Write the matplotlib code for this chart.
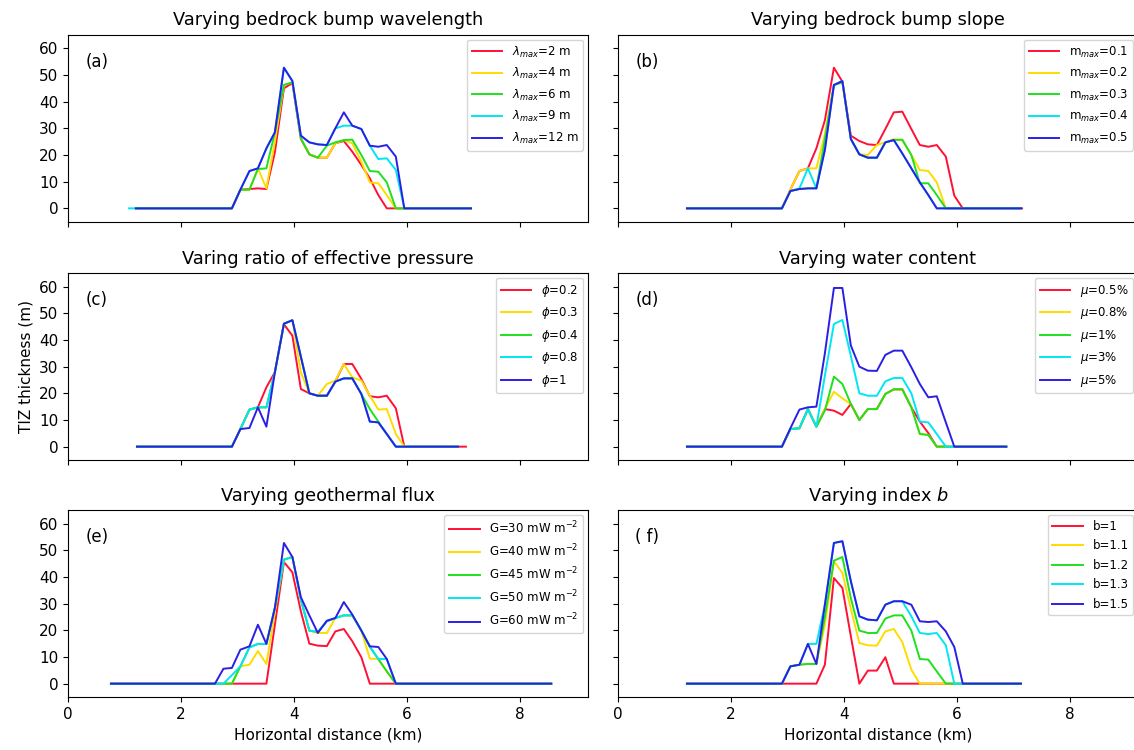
import matplotlib
matplotlib.use("Agg")
import matplotlib.pyplot as plt

# common horizontal grid of the model output (km)
X_GRID = [2.60, 2.75, 2.90, 3.05, 3.21, 3.36, 3.51, 3.66, 3.82, 3.97, 4.12, 4.27,
          4.42, 4.58, 4.73, 4.88, 5.03, 5.19, 5.34, 5.49, 5.64, 5.80, 5.95, 6.10]

COLORS = ["#ff1034", "#ffdc00", "#1fe01f", "#00e6f5", "#2b1fe6"]

# ----- (a) bump wavelength ------------------------------------------------ #
A_LABELS = [r"$\lambda_{max}$=2 m", r"$\lambda_{max}$=4 m", r"$\lambda_{max}$=6 m",
            r"$\lambda_{max}$=9 m", r"$\lambda_{max}$=12 m"]
A_START = [1.20, 1.20, 1.20, 1.08, 1.20]
A_END = [7.13, 7.13, 7.13, 7.13, 7.13]
A_Y = [
    [0, 0, 0, 7, 7.25, 7.5, 7.25, 21, 45, 47, 26, 20.25, 19, 19, 24.4, 25.25, 21.25, 16.25, 11.25, 5, 0, 0, 0, 0],
    [0, 0, 0, 7, 7, 15, 7.5, 25, 46.25, 47.25, 26.25, 20.25, 19, 19, 24.4, 25.6, 24.4, 17.5, 9.75, 9.4, 5, 0, 0, 0],
    [0, 0, 0, 7, 7, 14.75, 15, 28.5, 46.25, 47.25, 26.25, 20.25, 19, 23.5, 24.75, 25.6, 25.75, 20, 14, 13.75, 9.75, 0, 0, 0],
    [0, 0, 0, 7, 14, 15, 22.5, 28.5, 52.75, 47.75, 27.25, 24.75, 24, 23.75, 30, 31, 31, 29.75, 23.5, 18.5, 18.75, 14.4, 0, 0],
    [0, 0, 0, 7, 14, 15, 22.5, 28.5, 52.75, 47.75, 27.25, 24.75, 24, 23.75, 30, 36, 31, 29.75, 23.5, 23.1, 23.75, 19.4, 0, 0],
]

# ----- (b) bump slope ------------------------------------------------------ #
B_LABELS = ["m$_{max}$=0.1", "m$_{max}$=0.2", "m$_{max}$=0.3", "m$_{max}$=0.4", "m$_{max}$=0.5"]
B_START = [1.22, 1.22, 1.22, 1.22, 1.22]
B_END = [7.15, 7.05, 7.13, 7.13, 7.13]
B_Y = [
    [0, 0, 0, 7, 14, 15, 22.5, 33, 52.75, 47.5, 27.25, 25.25, 24, 23.75, 29.75, 36, 36.25, 29.75, 23.75, 23.1, 23.75, 19.4, 4.75, 0],
    [0, 0, 0, 7, 14, 15, 15, 28, 46.25, 47.25, 26, 20.25, 20, 23.75, 24.75, 26, 25.6, 20, 14.4, 14, 9.75, 0, 0, 0],
    [0, 0, 0, 6.5, 7.25, 7.5, 7.5, 26, 46.25, 47.25, 26, 20.25, 19, 19, 24.75, 25.6, 25.75, 20, 9.4, 9.4, 5, 0, 0, 0],
    [0, 0, 0, 6.5, 7.5, 15, 7.5, 22, 46.25, 47.75, 26, 20.25, 19, 19, 24.75, 25.6, 20.6, 15, 9.75, 5, 0, 0, 0, 0],
    [0, 0, 0, 6.5, 7.25, 7.5, 7.5, 21.9, 46.25, 47.75, 26, 20.25, 19, 19, 24.75, 25.6, 20.6, 15, 9.75, 5, 0, 0, 0, 0],
]

# ----- (c) effective pressure ratio --------------------------------------- #
C_LABELS = [r"$\phi$=0.2", r"$\phi$=0.3", r"$\phi$=0.4", r"$\phi$=0.8", r"$\phi$=1"]
C_START = [1.22, 1.22, 1.22, 1.22, 1.22]
C_END = [7.04, 6.90, 6.90, 6.90, 6.90]
C_Y = [
    [0, 0, 0, 6.6, 13.9, 14.75, 22.25, 27.9, 45.9, 41.6, 21.6, 20, 19.1, 19.1, 24.4, 31, 31, 25.4, 18.9, 18.5, 19.1, 14.4, 0, 0],
    [0, 0, 0, 6.6, 13.9, 14.75, 14.75, 27.9, 46.1, 47.4, 27.9, 20, 19.1, 23.5, 24.75, 31, 26, 24.75, 19.1, 13.9, 14.1, 4.75, 0, 0],
    [0, 0, 0, 6.6, 13.9, 14.75, 14.75, 27.9, 46.1, 47.4, 33.75, 20, 19.1, 19.1, 24.4, 25.6, 25.6, 19.75, 14.1, 9.4, 4.75, 0, 0, 0],
    [0, 0, 0, 6.6, 13.9, 14.75, 14.75, 27.9, 46.1, 47.4, 33.75, 20, 19.1, 19.1, 24.4, 25.6, 25.6, 19.75, 9.4, 9.1, 4.75, 0, 0, 0],
    [0, 0, 0, 6.6, 7, 14.75, 7.5, 27.9, 46.1, 47.4, 33.75, 20, 19.1, 19.1, 24.4, 25.6, 25.6, 19.75, 9.4, 9.1, 4.75, 0, 0, 0],
]

# ----- (d) water content --------------------------------------------------- #
D_LABELS = [r"$\mu$=0.5%", r"$\mu$=0.8%", r"$\mu$=1%", r"$\mu$=3%", r"$\mu$=5%"]
D_START = [1.22, 1.22, 1.22, 1.22, 1.22]
D_END = [6.87, 6.87, 6.87, 6.87, 6.87]
D_Y = [
    [0, 0, 0, 6.6, 6.9, 14.1, 7.5, 14.1, 13.5, 11.9, 16, 10, 14.1, 14.1, 19.75, 21.5, 21.5, 14.75, 9.4, 5.1, 0, 0, 0, 0],
    [0, 0, 0, 6.6, 6.9, 14.1, 7.5, 14.1, 20.6, 18.1, 16, 10, 14.1, 14.1, 19.75, 21.5, 21.5, 14.75, 4.75, 4.4, 0, 0, 0, 0],
    [0, 0, 0, 6.6, 6.9, 14.1, 7.5, 13.5, 26.25, 23.5, 16, 10, 14.1, 14.1, 19.75, 21.5, 21.5, 14.75, 4.75, 4.4, 0, 0, 0, 0],
    [0, 0, 0, 6.6, 6.9, 14.1, 7.5, 26.6, 46, 47.5, 34, 20, 19.1, 19.1, 24.5, 25.75, 25.75, 20, 9.4, 9.1, 4.75, 0, 0, 0],
    [0, 0, 0, 6.9, 13.9, 14.75, 15, 35, 59.5, 59.5, 37.9, 30, 28.5, 28.4, 34.4, 36, 36, 29.75, 23.5, 18.5, 18.9, 9.1, 0, 0],
]

# ----- (e) geothermal flux ------------------------------------------------- #
E_LABELS = ["G=30 mW m$^{-2}$", "G=40 mW m$^{-2}$", "G=45 mW m$^{-2}$",
            "G=50 mW m$^{-2}$", "G=60 mW m$^{-2}$"]
E_START = [0.76, 0.76, 0.76, 0.76, 0.76]
E_END = [8.55, 8.55, 8.55, 8.55, 8.55]
E_Y = [
    [0, 0, 0, 0, 0, 0, 0, 22, 45.6, 41.75, 27.1, 15, 14.25, 14.1, 19.6, 20.5, 15.9, 9.9, 0, 0, 0, 0, 0, 0],
    [0, 0, 0, 6.5, 7.1, 12.25, 7.4, 27, 46.5, 47.5, 31.5, 19.9, 19, 19, 24.6, 25.6, 25.6, 19.9, 9.4, 9.25, 4.6, 0, 0, 0],
    [0, 0, 0, 6.5, 13.6, 14.9, 14.9, 28.4, 46.5, 47.5, 31.5, 19.9, 19.4, 23.4, 24.6, 25.6, 25.6, 19.9, 13.75, 9.25, 4.6, 0, 0, 0],
    [0, 0, 3.2, 6.5, 13.6, 14.9, 14.9, 28.4, 46.5, 47.5, 31.5, 19.9, 19.4, 23.4, 24.6, 25.6, 25.6, 19.9, 14, 9.25, 9.25, 0, 0, 0],
    [0, 5.6, 5.9, 12.75, 14, 22.1, 14.9, 28.4, 52.75, 47.5, 32.4, 25.6, 19, 23.6, 24.6, 30.6, 25.9, 19.9, 14, 13.75, 9.25, 0, 0, 0],
]

# ----- (f) index b --------------------------------------------------------- #
F_LABELS = ["b=1", "b=1.1", "b=1.2", "b=1.3", "b=1.5"]
F_START = [1.22, 1.22, 1.22, 1.22, 1.22]
F_END = [7.13, 7.13, 7.13, 7.13, 7.13]
F_Y = [
    [0, 0, 0, 0, 0, 0, 0, 7.1, 39.6, 35.9, 17.75, 0, 4.9, 4.9, 9.9, 0, 0, 0, 0, 0, 0, 0, 0, 0],
    [0, 0, 0, 6.5, 7.1, 7.4, 7.4, 22, 45.9, 41.5, 28, 15.25, 14.4, 14.25, 19.6, 20.5, 15.6, 5.25, 0, 0, 0, 0, 0, 0],
    [0, 0, 0, 6.5, 7.1, 7.4, 7.4, 25, 46.1, 47.5, 32, 19.9, 19, 19, 24.4, 25.6, 25.6, 19.9, 9.25, 9, 4.6, 0, 0, 0],
    [0, 0, 0, 6.5, 7.1, 14.9, 14.9, 29.6, 52.75, 53.4, 38.4, 25.25, 24, 23.75, 29.6, 30.9, 30.9, 25.25, 19, 18.6, 19, 14.4, 0, 0],
    [0, 0, 0, 6.5, 7.1, 14.9, 7.4, 29.6, 52.75, 53.4, 38.4, 25.25, 24, 23.75, 29.6, 30.9, 30.9, 29.6, 23.4, 23.1, 23.4, 19.6, 13.75, 0],
]

PANELS = [
    ("Varying bedrock bump wavelength", "(a)", A_LABELS, A_START, A_END, A_Y),
    ("Varying bedrock bump slope", "(b)", B_LABELS, B_START, B_END, B_Y),
    ("Varing ratio of effective pressure", "(c)", C_LABELS, C_START, C_END, C_Y),
    ("Varying water content", "(d)", D_LABELS, D_START, D_END, D_Y),
    ("Varying geothermal flux", "(e)", E_LABELS, E_START, E_END, E_Y),
    ("Varying index $b$", "( f)", F_LABELS, F_START, F_END, F_Y),
]

W, H = 1134, 750
fig = plt.figure(figsize=(W / 100, H / 100), dpi=100)

lefts = [68 / W, 618 / W]
bottoms = [528.3 / H, 290 / H, 53 / H]
aw, ah = 520 / W, 186.7 / H

for i, (title, tag, labels, starts, ends, ys) in enumerate(PANELS):
    row, col = divmod(i, 2)
    ax = fig.add_axes([lefts[col], bottoms[row], aw, ah])
    for lab, x0, x1, y, c in zip(labels, starts, ends, ys, COLORS):
        xs = [x0] + X_GRID + [x1]
        yy = [0] + y + [0]
        ax.plot(xs, yy, color=c, lw=1.4, label=lab)
    ax.set_xlim(0, 9.2)
    ax.set_ylim(-5, 65)
    ax.set_xticks([0, 2, 4, 6, 8])
    ax.set_yticks([0, 10, 20, 30, 40, 50, 60])
    ax.tick_params(labelsize=11)
    ax.set_title(title, fontsize=12.8, pad=7)
    ax.text(0.033, 0.855, tag, transform=ax.transAxes, fontsize=12, va="center")
    ax.legend(loc="upper right", fontsize=8.5, handlelength=2.6,
              borderaxespad=0.4, labelspacing=0.55)
    if row < 2:
        ax.tick_params(labelbottom=False)
    else:
        ax.set_xlabel("Horizontal distance (km)", fontsize=11)
    if col == 1:
        ax.tick_params(labelleft=False)
    if i == 2:
        ax.set_ylabel("TIZ thickness (m)", fontsize=11)

fig.savefig("out.png", dpi=100)
